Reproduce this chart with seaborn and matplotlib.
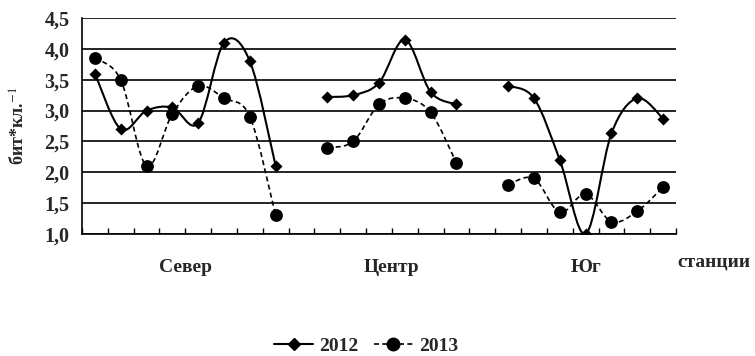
import matplotlib
matplotlib.use("Agg")
import matplotlib.pyplot as plt
import seaborn as sns
import numpy as np
from matplotlib.path import Path
from matplotlib.patches import PathPatch
from matplotlib.lines import Line2D

# values (бит*кл.^-1 per station)
groups = ["Север", "Центр", "Юг"]
vals_2012 = [
    [3.6, 2.7, 3.0, 3.05, 2.8, 4.1, 3.8, 2.1],
    [3.22, 3.25, 3.45, 4.15, 3.3, 3.1],
    [3.4, 3.2, 2.2, 1.0, 2.63, 3.2, 2.87],
]
vals_2013 = [
    [3.85, 3.5, 2.1, 2.95, 3.4, 3.2, 2.9, 1.3],
    [2.4, 2.5, 3.1, 3.2, 2.97, 2.15],
    [1.8, 1.9, 1.35, 1.65, 1.2, 1.37, 1.76],
]
yticks = [1.0, 1.5, 2.0, 2.5, 3.0, 3.5, 4.0, 4.5]
ytick_labels = ["1,0", "1,5", "2,0", "2,5", "3,0", "3,5", "4,0", "4,5"]

sns.set_style("white")
plt.rcParams["font.family"] = ["Liberation Serif", "DejaVu Serif"]
plt.rcParams["mathtext.fontset"] = "stix"


def smooth_patch(xs, ys, **kw):
    # excel-like smoothed line: cubic bezier through the points
    pts = np.column_stack([xs, ys])
    n = len(pts)
    verts = [pts[0]]
    codes = [Path.MOVETO]
    for i in range(n - 1):
        p0 = pts[max(i - 1, 0)]
        p1 = pts[i]
        p2 = pts[i + 1]
        p3 = pts[min(i + 2, n - 1)]
        c1 = p1 + (p2 - p0) / 6.0
        c2 = p2 - (p3 - p1) / 6.0
        verts += [c1, c2, p2]
        codes += [Path.CURVE4] * 3
    return PathPatch(Path(verts, codes), fill=False, **kw)


fig = plt.figure(figsize=(7.55, 3.56), dpi=100)
ax = fig.add_axes([0.1086, 0.3427, 0.7868, 0.6067])

# station positions: groups side by side with one empty slot between them
starts = []
pos = 0
for g in vals_2012:
    starts.append(pos)
    pos += len(g) + 1
n_slots = pos - 1

for gi in range(len(groups)):
    xs = np.arange(starts[gi], starts[gi] + len(vals_2012[gi]))
    ax.add_patch(smooth_patch(xs, vals_2012[gi], edgecolor="black", lw=1.5,
                              zorder=3))
    ax.add_patch(smooth_patch(xs, vals_2013[gi], edgecolor="black", lw=1.2,
                              linestyle=(0, (3, 2)), zorder=3))
    sns.scatterplot(x=xs, y=vals_2012[gi], marker="D", s=38, color="black",
                    edgecolor="black", linewidth=0, ax=ax, zorder=4)
    sns.scatterplot(x=xs, y=vals_2013[gi], marker="o", s=85, color="black",
                    edgecolor="black", linewidth=0, ax=ax, zorder=4)
    ax.text(xs.mean(), -0.157, groups[gi], transform=ax.get_xaxis_transform(),
            ha="center", va="center", fontsize=14, fontweight="bold")

ax.set_xlim(-0.5, n_slots - 0.5)
ax.set_ylim(1.0, 4.5)
ax.set_xticks(np.arange(-0.5, n_slots, 1.0))
ax.set_xticklabels([])
ax.tick_params(axis="x", direction="in", length=4, width=1, color="black",
               bottom=True)
ax.set_yticks(yticks)
ax.set_yticklabels(ytick_labels, fontsize=14.5, fontweight="bold")
ax.tick_params(axis="y", length=0, pad=9)
ax.yaxis.grid(True, color="black", lw=1.2)
ax.set_axisbelow(True)

for side in ["top", "right"]:
    ax.spines[side].set_visible(False)
for side in ["left", "bottom"]:
    ax.spines[side].set_color("black")
    ax.spines[side].set_linewidth(1.2)

ax.set_ylabel(r"бит*кл.$^{-1}$", fontsize=13, fontweight="bold")
ax.yaxis.set_label_coords(-0.09, 0.5)

ax.text(1.003, -0.13, "станции", transform=ax.transAxes, ha="left",
        va="center", fontsize=14, fontweight="bold")

handles = [
    Line2D([], [], color="black", lw=1.5, marker="D", markersize=6),
    Line2D([], [], color="black", lw=1.2, linestyle=(0, (3, 2)), marker="o",
           markersize=9),
]
fig.legend(handles, ["2012", "2013"], loc="center", bbox_to_anchor=(0.485, 0.027),
           ncol=2, frameon=False, handlelength=2.0, handletextpad=0.3,
           columnspacing=0.8, prop={"size": 14, "weight": "bold"})

fig.savefig("out.png", dpi=100)
